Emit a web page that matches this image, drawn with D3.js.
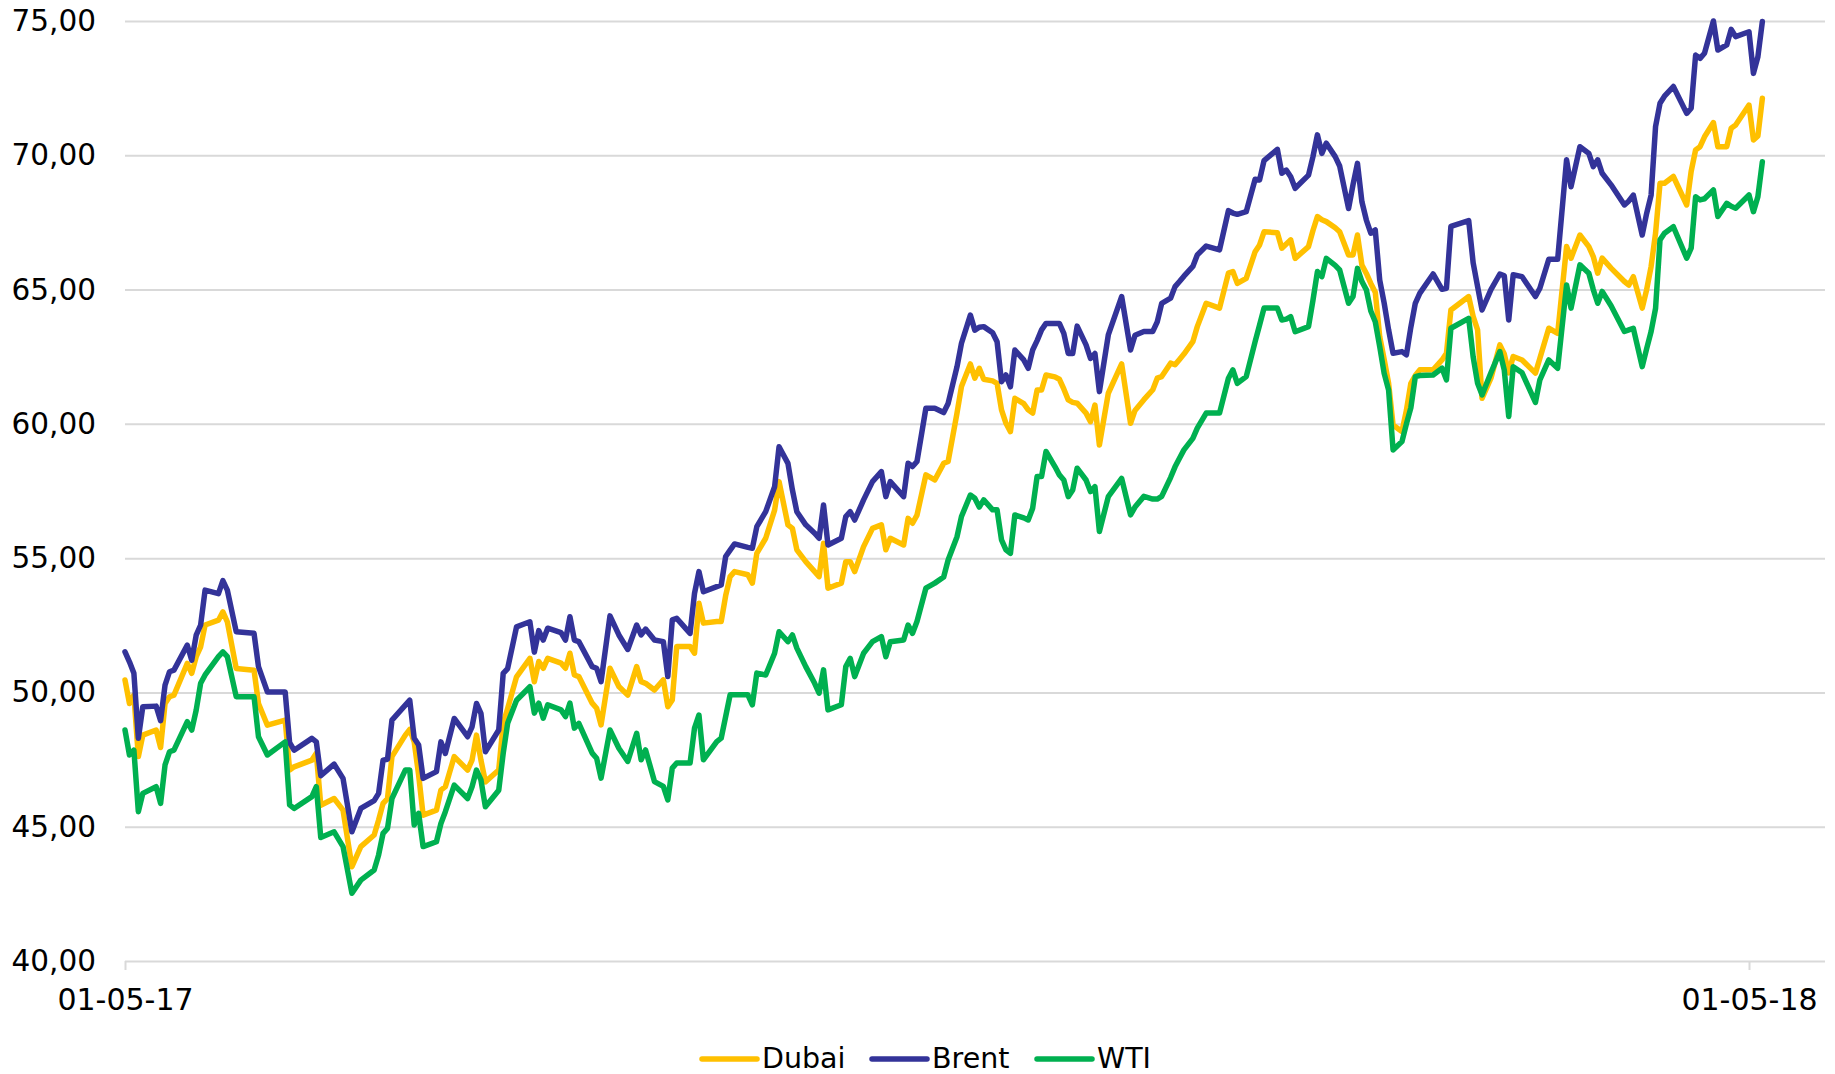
<!DOCTYPE html>
<html><head><meta charset="utf-8">
<script src="https://cdn.jsdelivr.net/npm/d3@7"></script>
<style>
body{margin:0;background:#fff;}
svg{display:block;font-family:"DejaVu Sans",Verdana,sans-serif;}
</style>
</head><body>
<svg id="chart" width="1835" height="1074"></svg>
<script>
const dates = [
"2017-05-01","2017-05-02","2017-05-03","2017-05-04","2017-05-05","2017-05-08","2017-05-09","2017-05-10","2017-05-11","2017-05-12","2017-05-15","2017-05-16","2017-05-17","2017-05-18","2017-05-19","2017-05-22","2017-05-23","2017-05-24","2017-05-26","2017-05-30","2017-05-31",
"2017-06-02","2017-06-06","2017-06-07","2017-06-08","2017-06-12","2017-06-13","2017-06-14","2017-06-17","2017-06-19","2017-06-21","2017-06-23","2017-06-26","2017-06-27","2017-06-28","2017-06-29","2017-06-30",
"2017-07-03","2017-07-04","2017-07-05","2017-07-06","2017-07-07","2017-07-10","2017-07-11","2017-07-12","2017-07-14","2017-07-17","2017-07-18","2017-07-19","2017-07-20","2017-07-21","2017-07-24","2017-07-25","2017-07-26","2017-07-28","2017-07-31",
"2017-08-01","2017-08-02","2017-08-03","2017-08-04","2017-08-07","2017-08-08","2017-08-09","2017-08-10","2017-08-11","2017-08-14","2017-08-15","2017-08-16","2017-08-18","2017-08-20","2017-08-22","2017-08-24","2017-08-25","2017-08-26","2017-08-28","2017-08-30","2017-08-31",
"2017-09-01","2017-09-02","2017-09-05","2017-09-06","2017-09-07","2017-09-08","2017-09-11","2017-09-12","2017-09-13","2017-09-14","2017-09-15","2017-09-18","2017-09-19","2017-09-20","2017-09-22","2017-09-24","2017-09-25","2017-09-27","2017-09-28","2017-09-29",
"2017-10-01","2017-10-03","2017-10-04","2017-10-05","2017-10-06","2017-10-09","2017-10-10","2017-10-11","2017-10-12","2017-10-14","2017-10-16","2017-10-18","2017-10-19","2017-10-20","2017-10-23","2017-10-24","2017-10-25","2017-10-26","2017-10-28","2017-10-30",
"2017-11-01","2017-11-02","2017-11-04","2017-11-05","2017-11-07","2017-11-08","2017-11-09","2017-11-10","2017-11-12","2017-11-13","2017-11-14","2017-11-15","2017-11-16","2017-11-17","2017-11-19","2017-11-20","2017-11-21","2017-11-22","2017-11-23","2017-11-24","2017-11-26","2017-11-27","2017-11-28","2017-11-29","2017-11-30",
"2017-12-01","2017-12-03","2017-12-04","2017-12-05","2017-12-06","2017-12-08","2017-12-11","2017-12-13","2017-12-14","2017-12-16","2017-12-18","2017-12-19","2017-12-20","2017-12-22","2017-12-23","2017-12-24","2017-12-25","2017-12-27","2017-12-28","2017-12-30",
"2018-01-02","2018-01-04","2018-01-05","2018-01-06","2018-01-08","2018-01-10","2018-01-11","2018-01-12","2018-01-15","2018-01-16","2018-01-17","2018-01-18","2018-01-19","2018-01-22","2018-01-23","2018-01-24","2018-01-25","2018-01-26","2018-01-28","2018-01-29","2018-01-31",
"2018-02-01","2018-02-02","2018-02-03","2018-02-04","2018-02-05","2018-02-06","2018-02-07","2018-02-08","2018-02-09","2018-02-10","2018-02-12","2018-02-13","2018-02-14","2018-02-15","2018-02-16","2018-02-19","2018-02-21","2018-02-22","2018-02-23","2018-02-27","2018-02-28",
"2018-03-01","2018-03-02","2018-03-04","2018-03-06","2018-03-07","2018-03-08","2018-03-09","2018-03-11","2018-03-14","2018-03-15","2018-03-17","2018-03-19","2018-03-21","2018-03-22","2018-03-24","2018-03-26","2018-03-27","2018-03-28","2018-03-29","2018-03-31",
"2018-04-03","2018-04-04","2018-04-05","2018-04-07","2018-04-08","2018-04-09","2018-04-10","2018-04-11","2018-04-12","2018-04-14","2018-04-17","2018-04-18","2018-04-19","2018-04-20","2018-04-21","2018-04-23","2018-04-24","2018-04-26","2018-04-27","2018-04-28",
"2018-05-01","2018-05-02","2018-05-03","2018-05-04"
];

const dubai = [
50.46,49.59,49.90,47.61,48.41,48.60,47.95,49.59,49.84,49.90,51.08,50.71,51.33,51.70,52.51,52.69,53.00,52.63,50.89,50.83,49.59,
48.78,48.97,47.11,47.23,47.48,47.73,45.8,46.05,45.62,43.51,44.26,44.69,45.25,45.87,46.05,47.61,
48.41,48.62,48.16,46.92,45.43,45.62,46.36,46.49,47.61,47.11,47.48,48.41,47.48,46.67,47.11,48.85,49.40,50.58,51.27,
50.40,51.15,50.90,51.27,51.09,50.90,51.46,50.65,50.59,49.60,49.41,48.79,50.90,50.22,49.90,50.96,50.40,50.34,50.09,50.47,49.47,
49.72,51.71,51.71,51.46,53.32,52.58,52.64,52.64,53.6,54.31,54.50,54.38,54.07,55.18,55.74,56.79,57.85,56.24,56.11,55.31,
54.87,54.50,54.31,55.55,53.88,54.07,54.87,54.87,54.50,55.43,56.11,56.24,55.31,55.74,55.49,56.48,56.30,56.6,58.10,57.91,
58.53,58.60,60.40,61.39,62.23,61.70,62.07,61.66,61.6,61.51,60.52,60.02,59.71,60.95,60.75,60.52,60.40,61.26,61.26,61.82,61.75,61.66,61.3,60.89,60.8,
60.77,60.40,60.08,60.70,59.21,61.14,62.23,60.02,60.5,60.9,61.27,61.70,61.76,62.26,62.20,62.4,62.6,63.06,63.62,64.49,
64.31,65.61,65.67,65.23,65.42,66.41,66.66,67.15,67.12,66.54,66.7,66.85,66.16,66.60,67.2,67.72,67.6,67.53,67.3,67.15,66.29,
66.29,67.03,65.91,65.6,65.23,64.9,63.25,62.4,61.51,59.96,59.71,60.5,61.51,61.8,62.01,62.01,62.38,62.63,64.24,64.74,64.0,
63.50,60.95,61.70,62.94,62.6,61.9,62.51,62.38,61.89,62.44,63.56,63.37,66.60,66.17,67.03,66.6,66.23,65.61,66.17,65.8,
65.3,65.17,65.48,64.31,65.0,65.86,67.1,68.96,68.96,69.21,68.15,69.4,70.20,70.32,70.69,71.22,70.32,70.32,71.01,71.13,
71.87,70.57,70.72,72.12
];

const brent = [
51.51,51.14,50.71,48.29,49.47,49.49,48.95,50.27,50.77,50.83,51.76,51.20,52.13,52.51,53.81,53.68,54.16,53.81,52.26,52.20,50.96,
50.02,50.02,48.13,47.85,48.29,48.16,46.9,47.33,46.80,44.81,45.68,45.97,46.24,47.48,47.51,48.97,
49.53,49.71,48.29,48.04,46.80,47.05,48.16,47.73,49.03,48.35,48.72,49.59,49.22,47.79,48.60,50.71,50.89,52.44,52.63,
51.5,52.30,51.95,52.39,52.23,51.95,52.82,51.95,51.89,50.96,50.90,50.40,52.85,52.14,51.60,52.51,52.14,52.36,51.95,51.89,50.59,
52.70,52.76,52.20,53.69,54.50,53.75,53.94,54.0,55.06,55.3,55.53,55.40,55.37,56.17,56.73,57.66,59.15,58.53,57.54,56.73,
56.24,55.93,55.74,56.98,55.49,55.74,56.55,56.73,56.42,57.17,57.85,58.22,57.29,57.85,57.29,58.53,58.41,58.6,60.58,60.58,
60.42,60.76,62.13,63.00,64.05,63.49,63.6,63.62,63.39,63.06,61.57,61.82,61.38,62.75,62.38,62.07,62.75,63.1,63.5,63.74,63.74,63.74,63.37,62.62,62.62,
63.64,62.94,62.44,62.62,61.20,63.31,64.74,62.75,63.3,63.44,63.44,63.8,64.49,64.68,65.11,65.3,65.5,65.86,66.29,66.62,
66.48,67.94,67.85,67.80,67.90,69.11,69.08,69.80,70.22,69.33,69.45,69.2,68.77,69.26,69.95,70.76,70.07,70.45,69.95,69.6,68.02,
68.9,69.70,68.27,67.59,67.1,67.22,65.36,64.5,63.5,62.63,62.69,62.57,63.6,64.49,64.86,65.58,65.01,65.05,67.35,67.57,66.0,
65.11,64.24,65.0,65.58,65.51,63.87,65.55,65.48,64.74,65.05,66.13,66.13,69.83,68.83,70.32,70.07,69.58,69.83,69.33,68.90,
68.15,68.3,68.52,67.03,67.84,68.52,71.07,71.94,72.2,72.56,71.56,71.75,73.73,73.61,73.8,75.0,73.92,74.11,74.69,74.42,
74.60,73.05,73.67,74.98
];

const wti = [
48.60,47.67,47.85,45.56,46.24,46.49,45.87,47.30,47.79,47.85,48.91,48.60,49.34,50.34,50.65,51.33,51.51,51.33,49.84,49.84,48.35,
47.67,48.16,45.81,45.68,46.12,46.49,44.6,44.81,44.26,42.52,43.01,43.39,43.95,44.75,44.94,46.05,
47.11,47.11,45.06,45.50,44.26,44.44,45.12,45.56,46.55,46.05,46.49,47.11,46.74,45.74,46.36,47.73,48.85,49.71,50.21,
49.23,49.60,49.04,49.54,49.35,49.10,49.60,48.67,48.85,47.74,47.55,46.81,48.60,47.92,47.43,48.48,47.49,47.86,46.68,46.50,46.00,
47.18,47.37,47.37,48.67,49.16,47.49,48.17,48.30,49.10,49.91,49.91,49.91,49.54,50.72,50.65,51.46,52.26,51.89,52.14,51.65,
50.96,50.34,49.97,50.84,49.35,49.54,50.96,51.27,50.59,51.46,51.89,52.08,51.33,51.89,51.95,52.51,52.20,52.64,53.88,54.07,
54.3,54.93,55.80,56.55,57.35,57.23,56.9,57.17,56.80,56.80,55.68,55.31,55.18,56.61,56.5,56.42,56.86,58.04,58.04,58.97,58.41,58.1,57.91,57.29,57.54,
58.35,57.91,57.48,57.66,55.99,57.29,57.97,56.61,56.9,57.3,57.2,57.2,57.3,58.0,58.4,58.72,59.03,59.46,59.84,60.40,
60.40,61.70,62.01,61.51,61.76,63.06,63.68,64.31,64.31,63.87,63.9,63.99,63.43,63.62,64.6,65.67,65.48,66.16,65.9,65.73,64.49,
64.74,65.79,65.3,64.99,64.2,63.8,62.88,61.88,61.26,59.03,59.34,60.0,60.6,61.76,61.8,61.82,62.07,61.64,63.56,63.93,62.5,
61.51,61.08,61.9,62.69,62.0,60.27,62.13,61.9,60.8,61.64,62.38,62.07,65.17,64.31,65.92,65.61,65.0,64.49,64.93,64.4,
63.44,63.5,63.56,62.13,62.8,63.44,64.3,66.85,67.1,67.34,66.17,66.54,68.46,68.34,68.38,68.71,67.72,68.21,68.1,68.03,
68.52,67.90,68.46,69.76
];

const seriesNames = ["Dubai", "Brent", "WTI"];
const seriesColors = ["#FFC000", "#333399", "#00B050"];
const yTicks = [40, 45, 50, 55, 60, 65, 70, 75];
const xTickDates = ["2017-05-01", "2018-05-01"];

const parse = d3.timeParse("%Y-%m-%d");
const svg = d3.select("#chart");

const plotLeft = 125, plotRight = 1825, plotTop = 21, plotBottom = 961;
const x = d3.scaleTime()
  .domain([parse(xTickDates[0]), parse(xTickDates[1])])
  .range([plotLeft, 1749]);
const y = d3.scaleLinear().domain([40, 75]).range([plotBottom, plotTop]);

const locale = d3.formatLocale({decimal: ",", thousands: ".", grouping: [3], currency: ["", "€"]});
const fmt = locale.format(".2f");

// Y axis with gridlines
const yAxis = svg.append("g")
  .attr("transform", `translate(${plotLeft},0)`)
  .call(d3.axisLeft(y).tickValues(yTicks).tickFormat(fmt)
    .tickSizeInner(-(plotRight - plotLeft)).tickSizeOuter(0).tickPadding(29));
yAxis.select(".domain").remove();
yAxis.selectAll(".tick line").attr("stroke", "#d9d9d9").attr("stroke-width", 2);
yAxis.selectAll(".tick text")
  .attr("fill", "#000")
  .style("font-size", "29.5px")
  .style("font-family", '"DejaVu Sans", Verdana, sans-serif');

// X axis
const xAxis = svg.append("g")
  .attr("transform", `translate(0,${plotBottom})`)
  .call(d3.axisBottom(x).tickValues(xTickDates.map(parse))
    .tickFormat(d3.timeFormat("%d-%m-%y")).tickSizeInner(9).tickSizeOuter(0).tickPadding(19));
xAxis.select(".domain").remove();
xAxis.selectAll(".tick line").attr("stroke", "#d9d9d9").attr("stroke-width", 2);
xAxis.selectAll(".tick text")
  .attr("fill", "#000")
  .style("font-size", "30px")
  .style("font-family", '"DejaVu Sans", Verdana, sans-serif');

// Lines
const parsedDates = dates.map(parse);
const allSeries = [dubai, brent, wti];
const line = d3.line()
  .x(d => x(d.date))
  .y(d => y(d.v));

allSeries.forEach((vals, i) => {
  const data = vals.map((v, j) => ({date: parsedDates[j], v}));
  svg.append("path")
    .datum(data)
    .attr("fill", "none")
    .attr("stroke", seriesColors[i])
    .attr("stroke-width", 5.5)
    .attr("stroke-linejoin", "round")
    .attr("stroke-linecap", "round")
    .attr("d", line);
});

// Legend
const legendX = [702, 872, 1037];
const legend = svg.append("g");
seriesNames.forEach((name, i) => {
  legend.append("line")
    .attr("x1", legendX[i]).attr("x2", legendX[i] + 55)
    .attr("y1", 1059).attr("y2", 1059)
    .attr("stroke", seriesColors[i]).attr("stroke-width", 5.5)
    .attr("stroke-linecap", "round");
  legend.append("text")
    .attr("x", legendX[i] + 60).attr("y", 1068)
    .attr("fill", "#000")
    .style("font-size", "28.5px")
    .text(name);
});
</script>
</body></html>
